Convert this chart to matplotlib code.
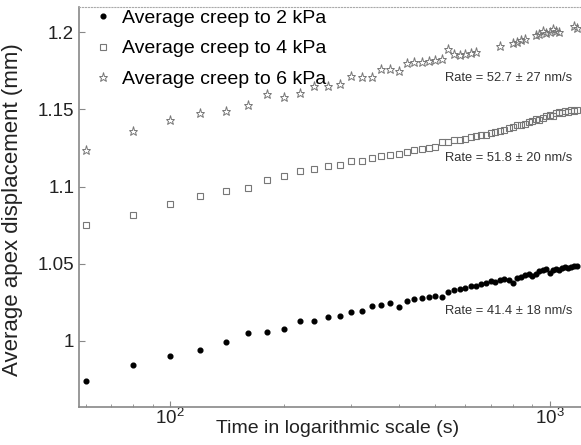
import numpy as np
import matplotlib
matplotlib.use("Agg")
from matplotlib import pyplot as plt

plt.rcParams['font.family'] = ['Liberation Sans', 'DejaVu Sans']
plt.rcParams['mathtext.default'] = 'regular'

# time points (s)
time_s = [60, 80, 100, 120, 140, 160, 180, 200, 220, 240, 260, 280, 300, 320,
          340, 360, 380, 400, 420, 440, 460, 480, 500, 520, 540, 560, 580, 600,
          620, 640, 660, 680, 700, 720, 740, 760, 780, 800, 820, 840, 860, 880,
          900, 920, 940, 960, 980, 1000, 1020, 1040, 1060, 1080, 1100, 1120,
          1140, 1160, 1180]

creep_2kpa = [0.9737, 0.9841, 0.9900, 0.9938, 0.9990, 1.0049, 1.0055, 1.0075,
              1.0126, 1.0126, 1.0152, 1.0159, 1.0185, 1.0191, 1.0224, 1.0230,
              1.0243, 1.0217, 1.0256, 1.0269, 1.0276, 1.0282, 1.0288, 1.0282,
              1.0314, 1.0327, 1.0334, 1.0340, 1.0353, 1.0353, 1.0366, 1.0373,
              1.0386, 1.0380, 1.0392, 1.0399, 1.0392, 1.0373, 1.0405, 1.0412,
              1.0425, 1.0431, 1.0418, 1.0431, 1.0450, 1.0457, 1.0464, 1.0438,
              1.0457, 1.0464, 1.0457, 1.0470, 1.0477, 1.0470, 1.0477, 1.0483,
              1.0483]

creep_4kpa = [1.0749, 1.0814, 1.0885, 1.0937, 1.0969, 1.0989, 1.1040, 1.1066,
              1.1099, 1.1112, 1.1131, 1.1138, 1.1164, 1.1164, 1.1183, 1.1196,
              1.1203, 1.1210, 1.1222, 1.1235, 1.1241, 1.1248, 1.1254, 1.1287,
              1.1287, 1.1300, 1.1300, 1.1306, 1.1319, 1.1326, 1.1332, 1.1332,
              1.1345, 1.1351, 1.1358, 1.1364, 1.1378, 1.1384, 1.1397, 1.1397,
              1.1404, 1.1416, 1.1423, 1.1436, 1.1429, 1.1443, 1.1456, 1.1462,
              1.1456, 1.1475, 1.1481, 1.1475, 1.1488, 1.1481, 1.1494, 1.1488,
              1.1494]

nan = np.nan
creep_6kpa = [1.1235, 1.1360, 1.1430, 1.1480, 1.1490, 1.1530, 1.1600, 1.1580,
              1.1610, 1.1650, 1.1650, 1.1663, 1.1715, 1.1708, 1.1708, 1.1760,
              1.1760, 1.1747, 1.1800, 1.1810, 1.1810, 1.1815, 1.1820, 1.1830,
              1.1890, 1.1860, 1.1855, 1.1860, 1.1865, 1.1870, nan, nan,
              nan, nan, 1.1910, nan, nan, 1.1930, 1.1940, 1.1950,
              1.1960, nan, nan, 1.1985, 1.1990, 1.2010, 1.1995, 1.2000,
              1.2020, 1.2010, 1.2005, nan, nan, nan, nan, 1.2040,
              1.2030]

labels = ['Average creep to 2 kPa', 'Average creep to 4 kPa', 'Average creep to 6 kPa']
rate_text = ['Rate = 41.4 \u00b1 18 nm/s', 'Rate = 51.8 \u00b1 20 nm/s', 'Rate = 52.7 \u00b1 27 nm/s']
rate_y = [1.0195, 1.1186, 1.1704]

fig = plt.figure(figsize=(5.81, 4.45), dpi=100)
ax = fig.add_axes([0.136, 0.0854, 0.864, 0.899])

gray = '#777777'
ax.plot(time_s, creep_2kpa, linestyle='none', marker='o', ms=3.4, color='black', label=labels[0])
ax.plot(time_s, creep_4kpa, linestyle='none', marker='s', ms=4.6, mfc='none', mec=gray, mew=0.8, label=labels[1])
ax.plot(time_s, creep_6kpa, linestyle='none', marker='*', ms=6.6, mfc='none', mec=gray, mew=0.7, label=labels[2])

ax.set_xscale('log')
ax.set_xlim(57.5, 1210)
ax.set_ylim(0.957, 1.2165)
ax.set_yticks([1, 1.05, 1.1, 1.15, 1.2])
ax.set_yticklabels(['1', '1.05', '1.1', '1.15', '1.2'])

for txt, yv in zip(rate_text, rate_y):
    ax.text(0.729, yv, txt, transform=ax.get_yaxis_transform(), fontsize=9.3,
            color='#333333', va='center', ha='left')

ax.set_xlabel('Time in logarithmic scale (s)', fontsize=14, color='#222222')
ax.xaxis.set_label_coords(0.516, -0.033)
ax.set_ylabel('Average apex displacement (mm)', fontsize=16, color='#222222')
ax.yaxis.set_label_coords(-0.112, 0.4925)

for s in ['left', 'bottom']:
    ax.spines[s].set_color('#888888')
    ax.spines[s].set_linewidth(1.2)
ax.spines['right'].set_visible(False)
ax.spines['top'].set_color('#aaaaaa')
ax.spines['top'].set_linestyle(':')
ax.tick_params(axis='both', which='both', direction='in', colors='#888888',
               labelcolor='#222222', labelsize=13.5)
ax.tick_params(axis='both', which='major', length=4)
ax.tick_params(axis='x', which='minor', length=2)
ax.tick_params(axis='x', which='major', pad=1)

ax.legend(loc='upper left', bbox_to_anchor=(0.028, 0.995), frameon=False,
          fontsize=14, borderpad=0, borderaxespad=0, handlelength=1.0,
          handletextpad=0.5, labelspacing=0.68, markerscale=1.0)

fig.savefig('out.png', dpi=100)
